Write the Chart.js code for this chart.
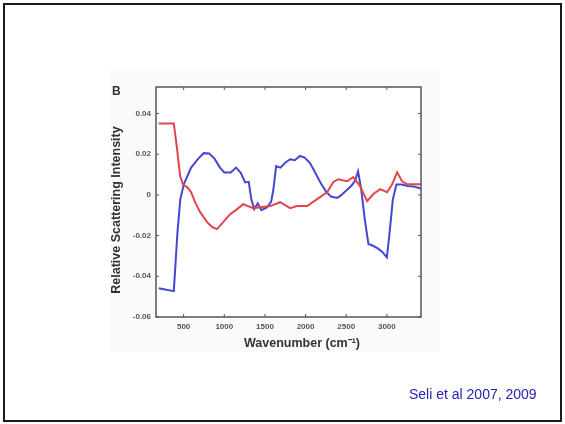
<!DOCTYPE html>
<html>
<head>
<meta charset="utf-8">
<script src="https://cdn.jsdelivr.net/npm/chart.js@4.4.0/dist/chart.umd.min.js"></script>
<style>
  html, body { margin: 0; padding: 0; background: #fff; }
  #slide { position: absolute; left: 3px; top: 3px; width: 555px; height: 415px; border: 2px solid #1a1a1a; }
  #figbg { position: absolute; left: 110px; top: 68px; width: 330px; height: 284px; background: #fafafa; }
  #panel { position: absolute; left: 112px; top: 84px; font: bold 12px "Liberation Sans", Arial, sans-serif; color: #333; }
  #cite { position: absolute; left: 409px; top: 386px; font: 14px "Liberation Sans", Arial, sans-serif; color: #2424b4; }
  canvas { position: absolute; left: 0; top: 0; }
</style>
</head>
<body>
<div id="slide"></div>
<div id="figbg"></div>
<canvas id="ramanChart" width="565" height="424"></canvas>
<div id="panel">B</div>
<div id="cite">Seli et al 2007, 2009</div>
<script>
// values
const blueWn = [193, 379, 424, 459, 503, 592, 681, 747, 814, 880, 947, 1000, 1079, 1146, 1204, 1257, 1301, 1332, 1368, 1412, 1456, 1523, 1576, 1602, 1638, 1691, 1753, 1811, 1868, 1930, 1988, 2055, 2121, 2188, 2254, 2312, 2388, 2431, 2498, 2564, 2609, 2646, 2684, 2728, 2773, 2830, 2888, 2941, 3000, 3030, 3074, 3118, 3185, 3251, 3331, 3420];
const blueVal = [-0.0459, -0.0473, -0.0184, -0.0021, 0.0053, 0.0134, 0.0178, 0.0205, 0.0203, 0.0178, 0.0134, 0.0110, 0.0110, 0.0134, 0.0107, 0.0061, 0.0064, -0.0021, -0.0070, -0.0041, -0.0075, -0.0062, -0.0034, 0.0020, 0.0141, 0.0134, 0.0159, 0.0175, 0.0170, 0.0191, 0.0183, 0.0156, 0.0107, 0.0057, 0.0015, -0.0008, -0.0015, -0.0004, 0.0020, 0.0045, 0.0069, 0.0116, 0.0028, -0.0119, -0.0241, -0.0250, -0.0263, -0.0279, -0.0307, -0.0200, -0.0021, 0.0051, 0.0051, 0.0044, 0.0041, 0.0031];

const redWn = [193, 379, 415, 457, 494, 543, 592, 641, 703, 789, 851, 912, 986, 1072, 1158, 1232, 1293, 1355, 1466, 1564, 1687, 1810, 1896, 2019, 2142, 2265, 2339, 2400, 2511, 2585, 2671, 2757, 2831, 2917, 3003, 3065, 3126, 3188, 3249, 3420];
const redVal = [0.0351, 0.0351, 0.0239, 0.0092, 0.0048, 0.0038, 0.0013, -0.0036, -0.0085, -0.0134, -0.0158, -0.0168, -0.0134, -0.0095, -0.0070, -0.0046, -0.0055, -0.0065, -0.0060, -0.0055, -0.0036, -0.0065, -0.0055, -0.0055, -0.0021, 0.0013, 0.0062, 0.0077, 0.0067, 0.0087, 0.0043, -0.0031, 0.0003, 0.0028, 0.0013, 0.0052, 0.0111, 0.0067, 0.0052, 0.0052];

const xTicks = [500, 1000, 1500, 2000, 2500, 3000];
const yTicks = [-0.06, -0.04, -0.02, 0, 0.02, 0.04];
const yTickLabels = ["-0.06", "-0.04", "-0.02", "0", "0.02", "0.04"];

const xTitle = "Wavenumber (cm\u207B\u00B9)";
const yTitle = "Relative Scattering Intensity";

function toPoints(xs, ys) {
  return xs.map(function(x, i) { return { x: x, y: ys[i] }; });
}

// frame with inward tick marks on all four sides, matlab style, plus axis titles
const framePlugin = {
  id: "frame",
  beforeDatasetsDraw: function(chart) {
    const a = chart.chartArea;
    const c = chart.ctx;
    c.save();
    c.fillStyle = "#ffffff";
    c.fillRect(a.left, a.top, a.right - a.left, a.bottom - a.top);
    c.restore();
  },
  afterDatasetsDraw: function(chart) {
    const a = chart.chartArea;
    const c = chart.ctx;
    const xs = chart.scales.x;
    const ys = chart.scales.y;
    c.save();
    c.strokeStyle = "#555";
    c.lineWidth = 1.5;
    c.strokeRect(a.left, a.top, a.right - a.left, a.bottom - a.top);
    c.lineWidth = 1;
    c.beginPath();
    xTicks.forEach(function(v) {
      const px = xs.getPixelForValue(v);
      c.moveTo(px, a.bottom); c.lineTo(px, a.bottom - 3);
      c.moveTo(px, a.top); c.lineTo(px, a.top + 3);
    });
    yTicks.forEach(function(v) {
      const py = ys.getPixelForValue(v);
      c.moveTo(a.left, py); c.lineTo(a.left + 3, py);
      c.moveTo(a.right, py); c.lineTo(a.right - 3, py);
    });
    c.stroke();

    // titles sit a bit off-centre in the original figure
    c.fillStyle = "#333";
    c.font = "bold 12.5px 'Liberation Sans', Arial, sans-serif";
    c.textAlign = "center";
    c.textBaseline = "middle";
    c.fillText(xTitle, 302, 344);
    c.translate(117, 210);
    c.rotate(-Math.PI / 2);
    c.fillText(yTitle, 0, 0);
    c.restore();
  }
};

const tickFont = { family: "'Liberation Sans', Arial, sans-serif", size: 8, weight: "bold" };

new Chart(document.getElementById("ramanChart").getContext("2d"), {
  type: "line",
  data: {
    datasets: [
      {
        label: "red",
        data: toPoints(redWn, redVal),
        borderColor: "#e2464a",
        borderWidth: 2,
        pointRadius: 0,
        tension: 0
      },
      {
        label: "blue",
        data: toPoints(blueWn, blueVal),
        borderColor: "#4646d2",
        borderWidth: 2,
        pointRadius: 0,
        tension: 0
      }
    ]
  },
  options: {
    responsive: false,
    animation: false,
    layout: { padding: { left: 111, top: 87, right: 144, bottom: 73 } },
    plugins: { legend: { display: false }, tooltip: { enabled: false } },
    scales: {
      x: {
        type: "linear",
        min: 160,
        max: 3420,
        grid: { display: false, drawTicks: false },
        border: { display: false },
        afterBuildTicks: function(scale) {
          scale.ticks = xTicks.map(function(v) { return { value: v }; });
        },
        afterFit: function(scale) { scale.height = 34; },
        ticks: { font: tickFont, color: "#555", padding: 5, maxRotation: 0,
          callback: function(v) { return String(v); } }
      },
      y: {
        min: -0.06,
        max: 0.053,
        grid: { display: false, drawTicks: false },
        border: { display: false },
        afterBuildTicks: function(scale) {
          scale.ticks = yTicks.map(function(v) { return { value: v }; });
        },
        afterFit: function(scale) { scale.width = 45; },
        ticks: { font: tickFont, color: "#555", padding: 5,
          callback: function(v) { return yTickLabels[yTicks.indexOf(v)]; } }
      }
    }
  },
  plugins: [framePlugin]
});
</script>
</body>
</html>
